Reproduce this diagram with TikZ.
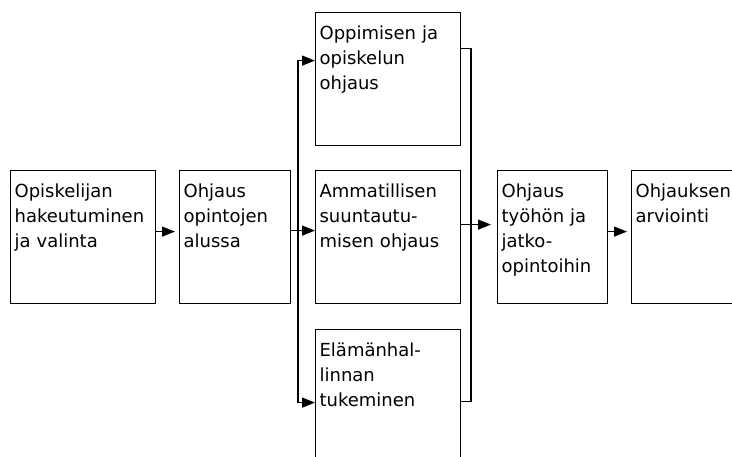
\documentclass[tikz,border=0pt]{standalone}
\usepackage{fontspec}
\setmainfont{DejaVu Sans}
\usetikzlibrary{arrows.meta}
\tikzset{
  box/.style={draw, line width=1.2pt, anchor=north west, align=left,
    inner xsep=4pt, inner ysep=0pt, text height=27pt, text depth=106pt,
    font=\fontsize{18}{25}\selectfont},
  arr/.style={line width=1.2pt, -{Triangle[length=13pt,width=10pt]}},
  line/.style={line width=1.2pt}
}
\begin{document}
\begin{tikzpicture}[x=1pt,y=-1pt]
\useasboundingbox (0,0) rectangle (732,457);
\clip (0,0) rectangle (732,457);
\foreach \n/\x/\y/\w/\t in {
  b1/10/170/137/{Opiskelijan\\hakeutuminen\\ja valinta},
  b2/179/170/103/{Ohjaus\\opintojen\\alussa},
  b3/315/12/137/{Oppimisen ja\\opiskelun\\ohjaus},
  b4/315/170/137/{Ammatillisen\\suuntautu-\\misen ohjaus},
  b5/315/329/137/{Elämänhal-\\linnan\\tukeminen},
  b6/497/170/102/{Ohjaus\\työhön ja\\jatko-\\opintoihin},
  b7/631/170/130/{Ohjauksen\\arviointi}}{
  \node[box, text width=\w pt] (\n) at (\x,\y) {\t};
}
% vasen haara
\coordinate (lsplit) at (298,230);
\draw[arr] ([yshift=6.5pt]b2.east) -- ([yshift=6.5pt]b4.west);
\draw[arr] (lsplit) |- ([yshift=18.5pt]b3.west);
\draw[arr] (lsplit) |- ([yshift=-6.5pt]b5.west);
% oikea haara
\coordinate (rjoin) at (471,224);
\draw[line] ([yshift=30.5pt]b3.east) -| (rjoin) |- ([yshift=-5.5pt]b5.east);
\draw[arr, shorten >=6pt] ([yshift=12.5pt]b4.east) -- ([yshift=12.5pt]b6.west);
\foreach \a/\b in {b1/b2,b6/b7}{
  \draw[arr, shorten >=4pt] ([yshift=5.5pt]\a.east) -- ([yshift=5.5pt]\b.west);
}
\end{tikzpicture}
\end{document}
